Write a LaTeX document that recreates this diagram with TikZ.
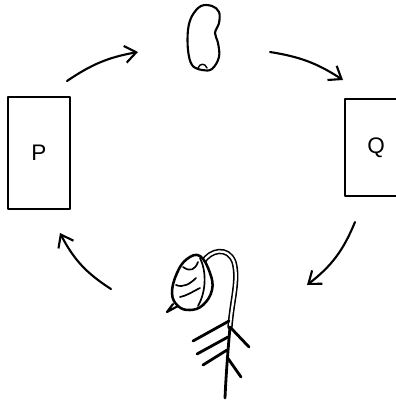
\documentclass[tikz,border=0pt]{standalone}
\usepackage{fontspec}
\setsansfont{Liberation Sans}
\usetikzlibrary{arrows.meta}
\begin{document}
\begin{tikzpicture}[>={Straight Barb[length=8pt,width=12pt]},x=0.025cm,y=-0.025cm,
		line join=round,line cap=round,line width=1.5pt,
		font=\sffamily\fontsize{16}{19}\selectfont]
	\useasboundingbox (0,0) rectangle (396,403);
	\clip (0,0) rectangle (396,403);
	\tikzset{stage/.style={draw,rectangle,inner sep=0pt}}
	% the two stages
	\node[stage,minimum width=62*0.025cm,minimum height=112*0.025cm] (P) at (39,153) {P};
	\node[stage,minimum width=62*0.025cm,minimum height=97*0.025cm] (Q) at (376,147.5) {Q};
	% bean
	\draw plot[smooth cycle,tension=0.6] coordinates{(201,6) (212,6) (219,12) (219,23) (215,33)
		(218,43) (219,57) (212,69) (202,70) (192,65) (188,50) (188,30) (192,16)};
	\draw[line width=1pt] (198,68) .. controls (200,63) and (205,63) .. (207,68);
	\coordinate (bean) at (204,38);
	% seedling
	\draw[double,double distance=1.6pt,line width=1.1pt] (203,262) .. controls (210,250) and (228,246) .. (234,262)
		.. controls (239,280) and (232,300) .. (230,327);
	\draw[line width=2pt] (230,327) .. controls (228,350) and (226,375) .. (225,398);
	\draw[fill=white,line width=1.8pt] plot[smooth cycle,tension=0.7] coordinates{(187,259) (200,256) (210,273) (212,290)
		(203,305) (190,310) (178,306) (172,293) (177,273)};
	\draw (178,306) -- (167,312) -- (173,304);
	\draw[line width=1.2pt] (200,258) .. controls (206,270) and (207,290) .. (198,306)
		(183,267) .. controls (190,272) and (195,270) .. (198,262)
		(176,285) .. controls (183,288) and (190,284) .. (196,278)
		(180,297) .. controls (186,296) and (192,292) .. (200,288);
	\draw[line width=2pt] (229,321) -- (193,341) (228,337) -- (197,354) (227,350) -- (203,365);
	\draw[line width=2pt] (230,327) -- (249,347) (227,357) -- (241,377);
	\coordinate (plant) at (207,330);
	% the cycle
	\coordinate (a1) at (67,81);  \coordinate (b1) at (138,52);
	\coordinate (a2) at (270,52); \coordinate (b2) at (343,80);
	\coordinate (a3) at (355,222); \coordinate (b3) at (307,285);
	\coordinate (a4) at (111,289); \coordinate (b4) at (60,233);
	\draw[->] (a1) to[bend left=12] (b1);
	\draw[->] (a2) to[bend left=12] (b2);
	\draw[->] (a3) to[bend left=15] (b3);
	\draw[->] (a4) to[bend left=15] (b4);
\end{tikzpicture}
\end{document}
